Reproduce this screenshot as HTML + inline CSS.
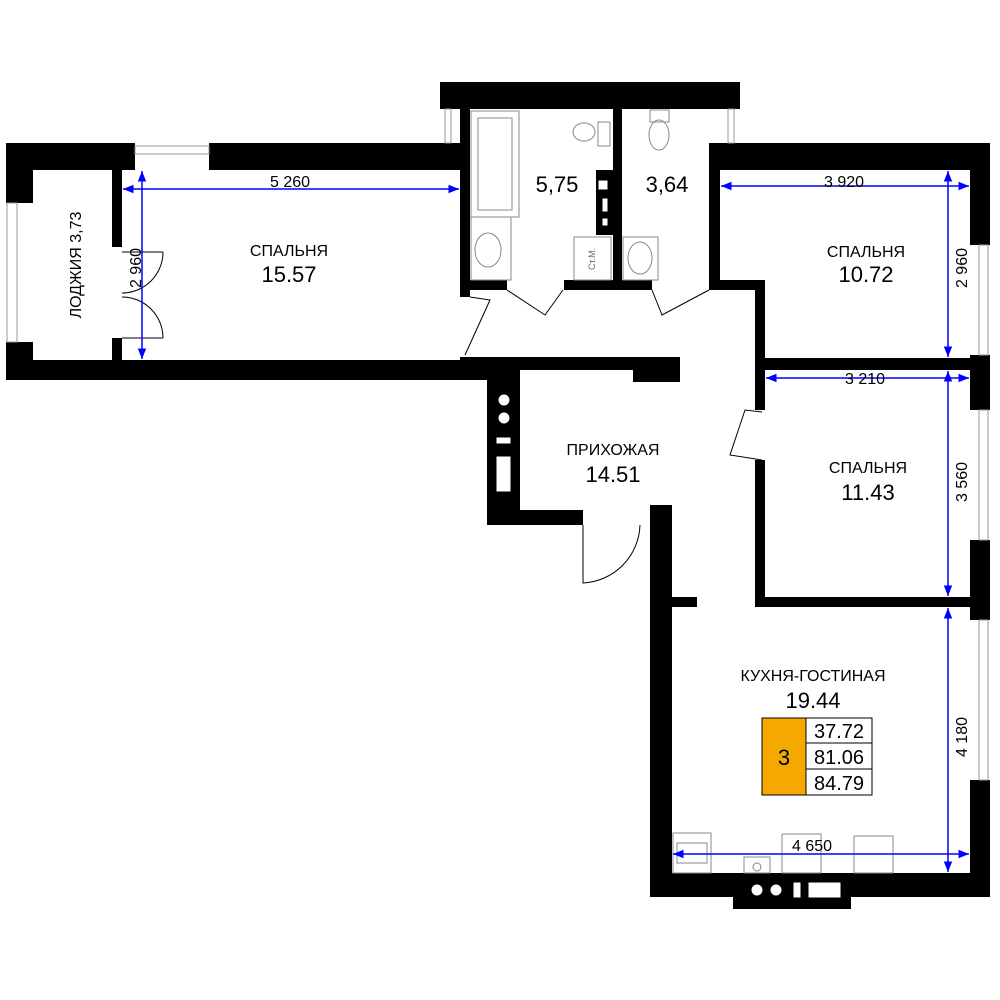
<!DOCTYPE html>
<html><head><meta charset="utf-8"><style>
html,body{margin:0;padding:0;background:#fff;}
svg{display:block;}
text{font-family:"Liberation Sans",Arial,sans-serif;fill:#000;}
</style></head><body>
<svg width="1000" height="1000" viewBox="0 0 1000 1000" xmlns="http://www.w3.org/2000/svg">
<defs>
<marker id="a" viewBox="0 0 10 10" refX="10" refY="5" markerWidth="7" markerHeight="7" orient="auto-start-reverse"><path d="M0,1 L10,5 L0,9 z" fill="#0000ff"/></marker>
</defs>
<g fill="#000">
<rect x="6" y="143" width="129" height="27"/>
<rect x="209" y="143" width="259" height="27"/>
<rect x="6" y="143" width="27" height="60"/>
<rect x="6" y="342" width="27" height="38"/>
<rect x="6" y="360" width="482" height="20"/>
<rect x="460" y="357" width="220" height="13"/>
<rect x="633" y="357" width="47" height="25"/>
<rect x="112" y="170" width="10" height="77"/>
<rect x="112" y="338" width="10" height="22"/>
<rect x="440" y="82" width="300" height="27"/>
<rect x="460" y="105" width="10" height="192"/>
<rect x="613" y="105" width="9" height="185"/>
<rect x="460" y="280" width="47" height="10"/>
<rect x="564" y="280" width="88" height="10"/>
<rect x="596" y="170" width="17" height="65"/>
<rect x="709" y="143" width="11" height="147"/>
<rect x="709" y="143" width="281" height="27"/>
<rect x="709" y="280" width="56" height="10"/>
<rect x="755" y="280" width="10" height="130"/>
<rect x="755" y="460" width="10" height="147"/>
<rect x="755" y="358" width="235" height="12"/>
<rect x="755" y="597" width="235" height="10"/>
<rect x="970" y="143" width="20" height="102"/>
<rect x="970" y="355" width="20" height="55"/>
<rect x="970" y="540" width="20" height="80"/>
<rect x="970" y="780" width="20" height="117"/>
<rect x="487" y="370" width="33" height="155"/>
<rect x="487" y="510" width="96" height="15"/>
<rect x="650" y="505" width="22" height="392"/>
<rect x="672" y="597" width="25" height="10"/>
<rect x="650" y="873" width="340" height="24"/>
<rect x="733" y="873" width="118" height="36"/>
</g>
<g fill="#fff" stroke="#999" stroke-width="1">
<rect x="135" y="146" width="74" height="8"/>
<rect x="7" y="203" width="10" height="139"/>
<rect x="445" y="109" width="6" height="34"/>
<rect x="728" y="109" width="6" height="34"/>
<rect x="979" y="245" width="9" height="110"/>
<rect x="979" y="410" width="9" height="130"/>
<rect x="979" y="620" width="9" height="160"/>
</g>
<g fill="#fff" stroke="#000">
<circle cx="504" cy="400" r="6"/><circle cx="504" cy="418" r="6"/>
<rect x="496" y="437" width="15" height="7"/><rect x="496" y="456" width="15" height="36"/>
<rect x="598" y="180" width="10" height="10"/><rect x="602" y="198" width="6" height="14"/><rect x="602" y="218" width="6" height="8"/>
<circle cx="757" cy="890" r="6"/><circle cx="776" cy="890" r="6"/>
<rect x="793" y="882" width="8" height="16"/><rect x="808" y="882" width="33" height="16"/>
</g>
<g fill="none" stroke="#888" stroke-width="1">
<rect x="471" y="111" width="48" height="106"/><rect x="478" y="118" width="34" height="92"/>
<rect x="471" y="217" width="40" height="63"/><ellipse cx="488" cy="250" rx="13" ry="17"/>
<ellipse cx="584" cy="132" rx="11" ry="9"/><rect x="598" y="122" width="12" height="24"/>
<rect x="574" y="237" width="37" height="43"/>
<ellipse cx="659" cy="135" rx="10" ry="15"/><rect x="650" y="110" width="19" height="12"/>
<rect x="623" y="237" width="35" height="43"/><ellipse cx="640" cy="258" rx="12" ry="16"/>
<rect x="673" y="833" width="38" height="40"/><rect x="677" y="843" width="30" height="20"/>
<rect x="744" y="857" width="26" height="16"/><circle cx="757" cy="867" r="4"/>
<rect x="782" y="834" width="39" height="39"/>
<rect x="854" y="836" width="39" height="37"/>
</g>
<text x="595" y="270" font-size="9" transform="rotate(-90 595 270)" style="fill:#666">Ст.М.</text>
<g fill="none" stroke="#000" stroke-width="1">
<path d="M163,252 A41,41 0 0 1 122,293 M122,297 A41,41 0 0 1 163,338"/>
<path d="M122,252 L163,252 M122,338 L163,338"/>
<path d="M470,297 L490,300 L465,355"/>
<path d="M507,290 L545,315 L563,290"/>
<path d="M652,290 L662,315 L709,290"/>
<path d="M762,412 L745,410 L730,455 L762,460"/>
<path d="M583,525 L583,583 A60,60 0 0 0 640,525"/>
</g>
<g stroke="#0000ff" stroke-width="1.5" marker-start="url(#a)" marker-end="url(#a)">
<line x1="123" y1="189" x2="459" y2="189"/>
<line x1="142" y1="171" x2="142" y2="359"/>
<line x1="721" y1="186" x2="969" y2="186"/>
<line x1="948" y1="171" x2="948" y2="357"/>
<line x1="766" y1="378" x2="969" y2="378"/>
<line x1="948" y1="371" x2="948" y2="596"/>
<line x1="673" y1="854" x2="969" y2="854"/>
<line x1="948" y1="608" x2="948" y2="872"/>
</g>
<text x="290" y="187" font-size="16" text-anchor="middle">5 260</text>
<text x="141" y="268" font-size="16" text-anchor="middle" transform="rotate(-90 141 268)">2 960</text>
<text x="81" y="265" font-size="16" text-anchor="middle" transform="rotate(-90 81 265)">ЛОДЖИЯ 3,73</text>
<text x="289" y="256" font-size="16" text-anchor="middle">СПАЛЬНЯ</text>
<text x="289" y="282" font-size="22" text-anchor="middle">15.57</text>
<text x="557" y="192" font-size="22" text-anchor="middle">5,75</text>
<text x="667" y="192" font-size="22" text-anchor="middle">3,64</text>
<text x="844" y="187" font-size="16" text-anchor="middle">3 920</text>
<text x="866" y="257" font-size="16" text-anchor="middle">СПАЛЬНЯ</text>
<text x="866" y="282" font-size="22" text-anchor="middle">10.72</text>
<text x="967" y="268" font-size="16" text-anchor="middle" transform="rotate(-90 967 268)">2 960</text>
<text x="865" y="384" font-size="16" text-anchor="middle">3 210</text>
<text x="868" y="473" font-size="16" text-anchor="middle">СПАЛЬНЯ</text>
<text x="868" y="500" font-size="22" text-anchor="middle">11.43</text>
<text x="967" y="482" font-size="16" text-anchor="middle" transform="rotate(-90 967 482)">3 560</text>
<text x="613" y="455" font-size="16" text-anchor="middle">ПРИХОЖАЯ</text>
<text x="613" y="482" font-size="22" text-anchor="middle">14.51</text>
<text x="813" y="681" font-size="16" text-anchor="middle">КУХНЯ-ГОСТИНАЯ</text>
<text x="813" y="708" font-size="22" text-anchor="middle">19.44</text>
<text x="967" y="737" font-size="16" text-anchor="middle" transform="rotate(-90 967 737)">4 180</text>
<text x="812" y="851" font-size="16" text-anchor="middle">4 650</text>
<rect x="762" y="718" width="44" height="77" fill="#f5a800" stroke="#000"/>
<rect x="806" y="718" width="66" height="25" fill="#fff" stroke="#000"/>
<rect x="806" y="743" width="66" height="26" fill="#fff" stroke="#000"/>
<rect x="806" y="769" width="66" height="26" fill="#fff" stroke="#000"/>
<text x="784" y="765" font-size="22" text-anchor="middle">3</text>
<text x="839" y="738" font-size="20" text-anchor="middle">37.72</text>
<text x="839" y="764" font-size="20" text-anchor="middle">81.06</text>
<text x="839" y="790" font-size="20" text-anchor="middle">84.79</text>
</svg>
</body></html>
